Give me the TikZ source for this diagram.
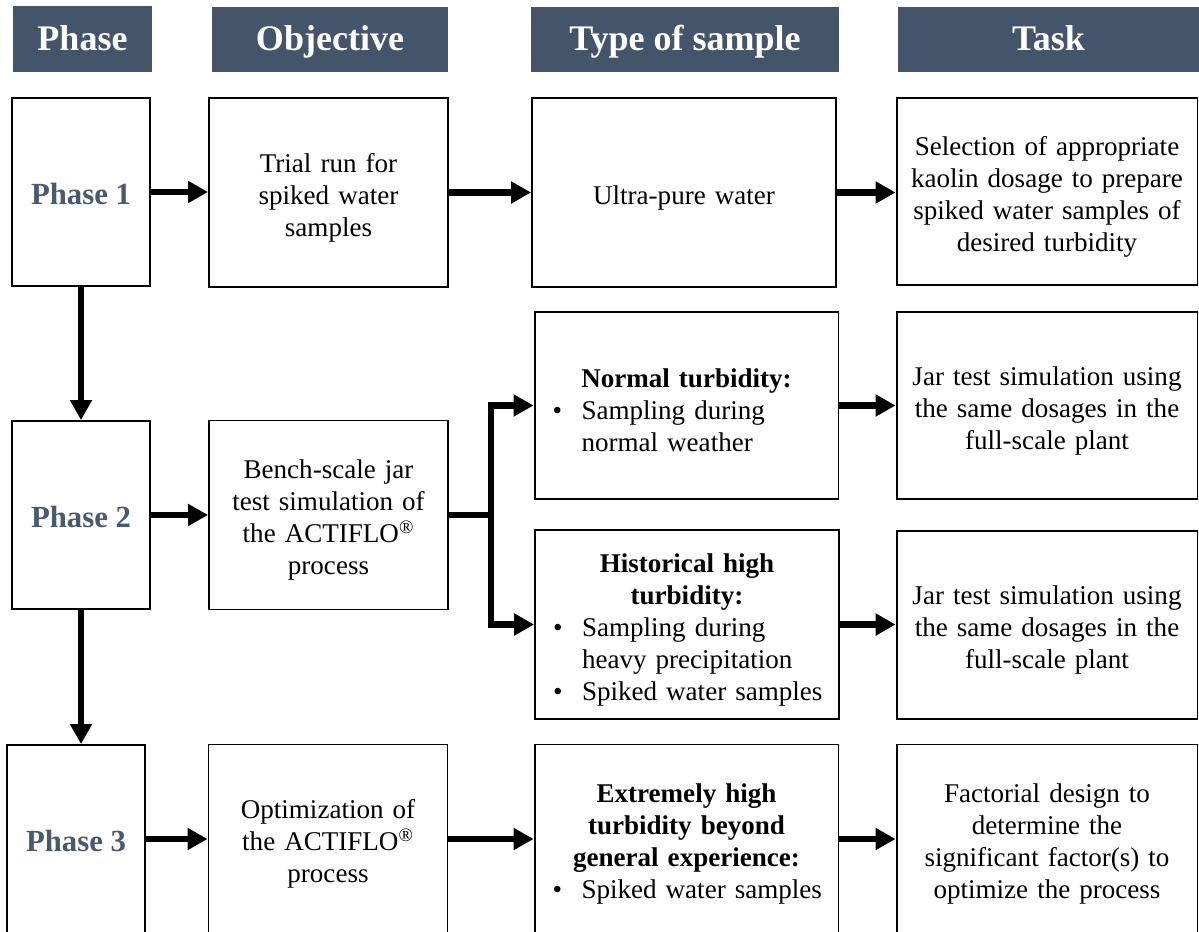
\documentclass[tikz,border=0pt]{standalone}
\usepackage{fontspec}
\setmainfont{Liberation Serif}
\usetikzlibrary{arrows.meta,positioning,calc}
\definecolor{headslate}{RGB}{68,84,106}
\definecolor{phaseslate}{RGB}{72,89,114}

% bullet line and its continuation inside the sample boxes
\newcommand{\bul}[1]{\makebox[5.36cm][l]{\makebox[0.58cm][l]{\textbullet}#1}}
\newcommand{\cont}[1]{\makebox[5.36cm][l]{\hspace{0.58cm}#1}}

\begin{document}
\begin{tikzpicture}[x=0.02cm, y=-0.02cm,
    head/.style={rectangle, fill=headslate, text=white, minimum height=1.32cm,
        inner sep=0pt, text height=15pt, text depth=2pt,
        font=\fontsize{20.5}{24}\selectfont\bfseries},
    box/.style={rectangle, draw, line width=1.1pt, fill=white, inner sep=0pt,
        align=center, font=\fontsize{15.4}{18.2}\selectfont},
    phasebox/.style={box, minimum width=2.76cm, minimum height=3.76cm,
        text height=15pt, text depth=1.3pt,
        text=phaseslate, font=\fontsize{17.5}{21}\selectfont\bfseries},
    textbox/.style={box, execute at begin node={\rule{0pt}{16.5pt}}},
    objbox/.style={textbox, minimum width=4.78cm, minimum height=3.78cm, text width=4.5cm},
    typebox/.style={textbox, minimum width=6.08cm, minimum height=3.76cm, text width=5.36cm},
    taskbox/.style={textbox, minimum width=6.02cm, minimum height=3.76cm, text width=5.8cm},
    flow/.style={line width=3.5pt, -{Triangle[length=0.4cm, width=0.42cm]}},
    flowline/.style={line width=3.5pt},
]
    \useasboundingbox (0,0) rectangle (1199,932);

    % column headers
    \node[head, minimum width=2.78cm] (hphase) at (82.5,39) {Phase};
    \node[head, minimum width=4.72cm] (hobj) at (330,39.5) {Objective};
    \node[head, minimum width=6.16cm] (htype) at (685,39.5) {Type of sample};
    \node[head, minimum width=6.02cm] (htask) at (1048.5,39.5) {Task};

    % phases
    \node[phasebox] (ph1) at (81,192) {Phase 1};
    \node[phasebox] (ph2) at (81,515) {Phase 2};
    \node[phasebox] (ph3) at (76,839) {Phase 3};

    % objectives
    \node[objbox] (trial) at (328.5,192.5) {Trial run for\\spiked water\\samples};
    \node[objbox] (bench) at (328.5,515) {Bench-scale jar\\test simulation of\\the ACTIFLO\textsuperscript{\textregistered}\\process};
    \node[objbox] (optim) at (328,839) {Optimization of\\the ACTIFLO\textsuperscript{\textregistered}\\process};

    % types of sample
    \node[typebox, minimum height=3.78cm] (ultra) at (684,192.5) {Ultra-pure water};
    \node[typebox, minimum height=3.74cm] (normal) at (686.5,405.5)
        {\textbf{Normal turbidity:}\\\bul{Sampling during}\\\cont{normal weather}};
    \node[typebox, minimum height=3.78cm] (hist) at (687,624.5)
        {\textbf{Historical high}\\\textbf{turbidity:}\\\bul{Sampling during}\\\cont{heavy precipitation}\\\bul{Spiked water samples}};
    \node[typebox, minimum height=3.78cm] (extreme) at (686.5,839)
        {\textbf{Extremely high}\\\textbf{turbidity beyond}\\\textbf{general experience:}\\\bul{Spiked water samples}};

    % tasks
    \node[taskbox, minimum height=3.74cm] (task1) at (1047,191.5)
        {Selection of appropriate\\kaolin dosage to prepare\\spiked water samples of\\desired turbidity};
    \node[taskbox, minimum height=3.74cm] (task2a) at (1047,405.5)
        {Jar test simulation using\\the same dosages in the\\full-scale plant};
    \node[taskbox, minimum height=3.76cm] (task2b) at (1047,625)
        {Jar test simulation using\\the same dosages in the\\full-scale plant};
    \node[taskbox, minimum height=3.78cm] (task3) at (1047,839)
        {Factorial design to\\determine the\\significant factor(s) to\\optimize the process};

    % phase sequence
    \draw[flow] (ph1.south) -- (ph2.north);
    \draw[flow] (ph2.south) -- (ph2.south |- ph3.north);

    % rows
    \draw[flow] (ph1.east) -- (ph1.east -| trial.west);
    \draw[flow] (trial.east) -- (ultra.west);
    \draw[flow] (ultra.east) -- (ultra.east -| task1.west);

    \draw[flow] (ph2.east) -- (bench.west);
    \draw[flowline] (bench.east) -- ++(42,0) coordinate (fork);
    \draw[flow] (fork) |- (normal.west);
    \draw[flow] (fork) |- (hist.west);
    \draw[flow] (normal.east) -- (task2a.west);
    \draw[flow] (hist.east) -- (hist.east -| task2b.west);

    \draw[flow] (ph3.east) -- (optim.west);
    \draw[flow] (optim.east) -- (extreme.west);
    \draw[flow] (extreme.east) -- (task3.west);
\end{tikzpicture}
\end{document}
